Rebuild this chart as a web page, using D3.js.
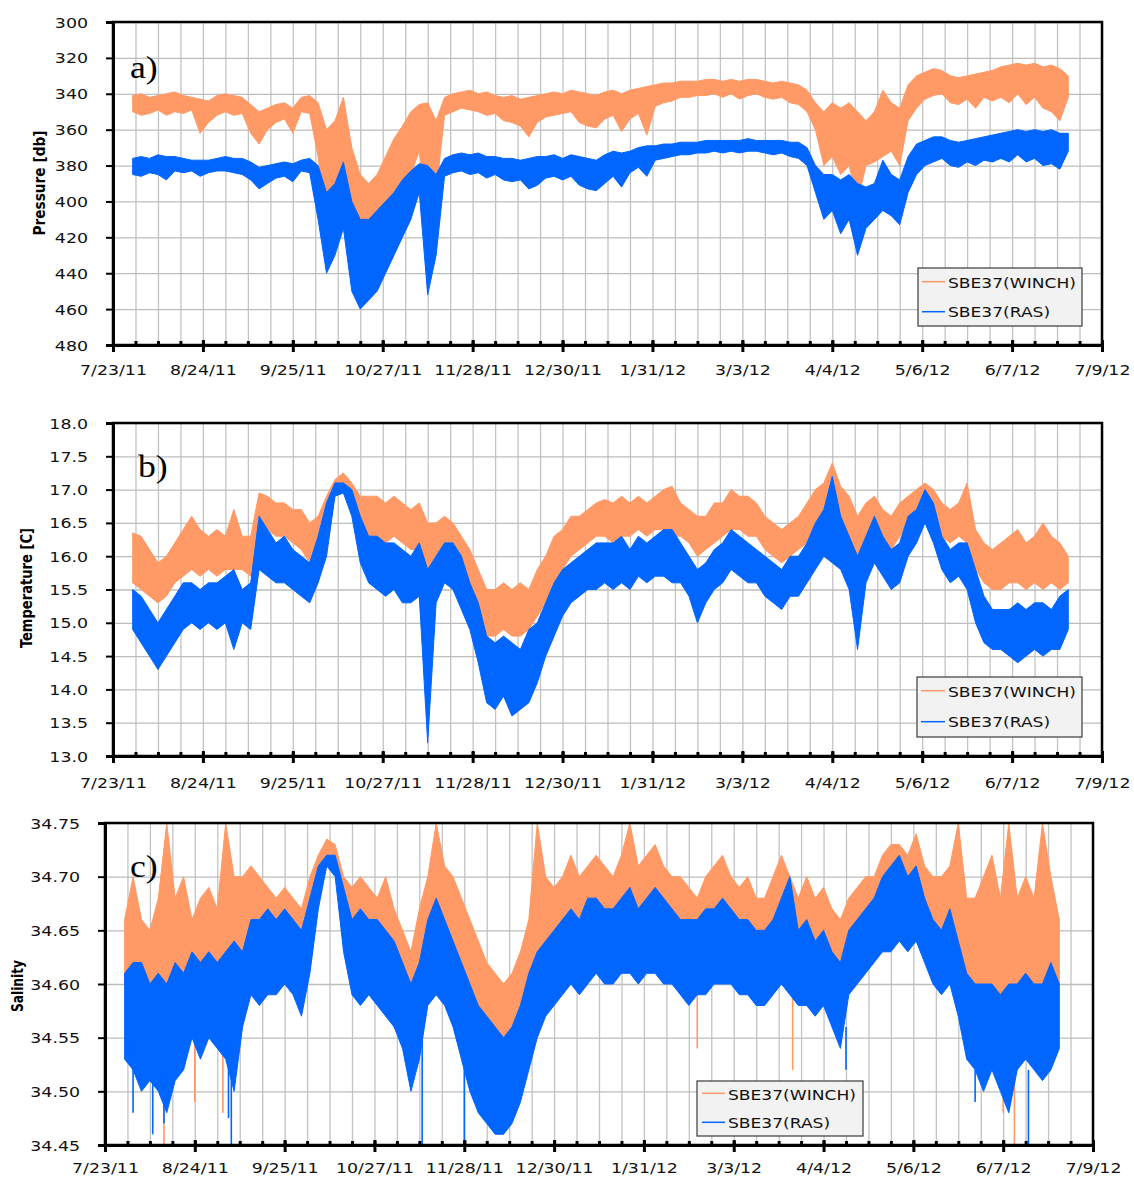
<!DOCTYPE html>
<html><head><meta charset="utf-8">
<script src="https://cdn.jsdelivr.net/npm/d3@7"></script>
<style>body{margin:0;background:#fff}</style></head>
<body>
<svg id="chart" width="1134" height="1178"></svg>
<script>
// ---------- DATA ----------
const tickLabels = ["7/23/11","8/24/11","9/25/11","10/27/11","11/28/11","12/30/11","1/31/12","3/3/12","4/4/12","5/6/12","6/7/12","7/9/12"];
const seriesNames = ["SBE37(WINCH)","SBE37(RAS)"];
const pressTicks = [300,320,340,360,380,400,420,440,460,480];
const tempTicks = [13.0,13.5,14.0,14.5,15.0,15.5,16.0,16.5,17.0,17.5,18.0];
const salTicks = [34.45,34.50,34.55,34.60,34.65,34.70,34.75];

// sample day (days after 7/23/11)
const sampleDay = [
7,10,13,16,19,22,25,28,
31,34,37,40,43,46,49,52,
55,58,61,64,67,70,73,76,
79,82,85,88,91,94,97,100,
103,106,109,112,115,118,121,124,
127,130,133,136,139,142,145,148,
151,154,157,160,163,166,169,172,
175,178,181,184,187,190,193,196,
199,202,205,208,211,214,217,220,
223,226,229,232,235,238,241,244,
247,250,253,256,259,262,265,268,
271,274,277,280,283,286,289,292,
295,298,301,304,307,310,313,316,
319,322,325,328,331,334,337,340];

// Pressure [db]
const pressWinchLo = [
341,340,342,341,340,339,341,342,
343,344,341,340,341,342,346,350,
348,346,345,348,342,341,345,360,
355,342,370,385,390,385,375,365,
358,350,346,345,355,342,340,339,
338,340,339,341,342,341,343,342,
341,340,339,340,338,339,340,341,
339,338,340,338,337,336,335,334,
334,333,333,333,332,332,333,332,
333,332,332,333,334,333,334,335,
338,345,350,345,348,345,350,355,
350,338,345,348,335,330,328,326,
327,330,331,330,329,328,327,325,
324,323,324,323,325,324,326,330];
const pressWinchHi = [
350,352,351,349,352,350,351,349,
362,356,352,350,352,351,362,368,
360,356,354,362,350,351,375,418,
405,395,420,435,430,425,415,405,
395,385,372,418,395,352,350,348,
349,350,352,351,355,356,358,364,
356,353,352,351,350,356,358,359,
354,352,361,354,351,363,347,345,
344,342,342,341,341,340,342,340,
343,341,340,342,343,342,345,346,
350,360,380,375,385,380,400,380,
378,375,372,380,355,348,343,341,
340,345,346,343,348,342,344,342,
345,340,346,342,348,350,355,342];
const pressRasLo = [
376,375,376,374,375,375,376,377,
377,377,376,375,376,376,378,381,
380,379,378,379,377,376,380,395,
390,378,400,410,410,405,400,395,
388,383,379,380,385,376,374,373,
374,373,375,375,376,376,377,376,
375,375,374,376,374,375,376,377,
374,372,373,372,370,369,369,368,
368,367,367,367,366,366,366,366,
366,365,366,366,366,366,367,367,
370,380,385,385,388,385,390,392,
390,377,385,388,375,368,366,364,
364,366,367,366,365,364,363,362,
361,360,361,360,361,360,362,362];
const pressRasHi = [
385,386,384,385,388,383,384,383,
386,384,383,383,384,385,388,393,
390,387,386,389,383,384,410,440,
430,415,450,460,455,450,440,430,
420,410,395,452,430,386,384,383,
385,384,387,385,388,389,388,393,
391,387,386,388,386,391,393,394,
390,386,392,384,381,386,377,376,
375,374,374,373,373,372,373,372,
373,372,372,373,374,373,375,376,
380,395,410,405,418,410,430,415,
410,405,408,413,395,385,380,378,
376,380,381,378,380,377,378,376,
378,374,378,376,380,379,382,372];

// Temperature [C]
const tempWinchLo = [
15.6,15.5,15.4,15.3,15.4,15.6,15.7,15.8,
15.7,15.8,15.7,15.8,15.8,15.8,15.7,16.3,
16.4,16.3,16.3,16.2,16.1,15.9,16.0,16.3,
16.9,17.0,16.8,16.4,16.2,16.3,16.2,16.3,
16.2,16.1,16.1,14.2,15.8,16.0,15.9,15.6,
15.4,15.0,14.8,14.8,14.9,14.8,14.8,14.9,
15.1,15.3,15.5,15.8,16.0,16.1,16.2,16.3,
16.3,16.2,16.3,16.3,16.4,16.3,16.4,16.4,
16.3,16.3,16.2,16.0,16.1,16.2,16.3,16.4,
16.4,16.3,16.3,16.1,16.0,15.9,16.0,16.1,
16.2,16.4,16.5,16.6,16.5,16.3,15.6,16.2,
16.4,16.2,16.1,16.3,16.4,16.5,16.7,16.5,
16.3,16.2,16.3,16.2,15.8,15.6,15.5,15.5,
15.6,15.6,15.5,15.6,15.5,15.6,15.5,15.6];
const tempWinchHi = [
16.35,16.3,16.1,15.9,16.0,16.2,16.4,16.6,
16.4,16.3,16.4,16.3,16.7,16.3,16.3,16.95,
16.9,16.8,16.8,16.7,16.7,16.5,16.6,16.9,
17.15,17.25,17.1,16.9,16.9,16.9,16.8,16.9,
16.8,16.7,16.8,16.5,16.5,16.6,16.5,16.3,
16.1,15.8,15.5,15.5,15.6,15.5,15.6,15.5,
15.8,16.0,16.3,16.4,16.6,16.6,16.7,16.8,
16.85,16.8,16.9,16.8,16.9,16.8,16.9,17.0,
17.05,16.8,16.7,16.6,16.6,16.8,16.8,17.0,
16.9,16.9,16.8,16.6,16.5,16.4,16.5,16.6,
16.8,17.0,17.1,17.4,17.05,16.9,16.6,16.8,
16.9,16.7,16.6,16.8,16.9,17.0,17.1,17.0,
16.8,16.7,16.8,17.1,16.4,16.2,16.1,16.2,
16.3,16.4,16.2,16.3,16.5,16.3,16.2,16.0];
const tempRasLo = [
14.9,14.7,14.5,14.3,14.5,14.7,14.9,15.0,
14.9,15.0,14.9,15.0,14.6,15.0,14.9,15.8,
15.7,15.6,15.6,15.5,15.4,15.3,15.6,16.0,
16.9,16.95,16.6,15.9,15.6,15.5,15.4,15.5,
15.3,15.3,15.4,13.2,15.3,15.6,15.5,15.2,
14.9,14.4,13.8,13.7,13.9,13.6,13.7,13.8,
14.1,14.5,14.8,15.1,15.3,15.4,15.5,15.5,
15.6,15.5,15.6,15.5,15.7,15.6,15.7,15.7,
15.6,15.6,15.4,15.0,15.3,15.5,15.6,15.8,
15.7,15.6,15.6,15.4,15.3,15.2,15.4,15.4,
15.6,15.8,16.0,15.9,15.8,15.5,14.6,15.6,
15.9,15.7,15.5,15.6,16.0,16.2,16.5,16.2,
15.8,15.6,15.7,15.5,15.0,14.7,14.6,14.6,
14.5,14.4,14.5,14.6,14.5,14.6,14.6,14.9];
const tempRasHi = [
15.5,15.4,15.2,15.0,15.2,15.4,15.6,15.6,
15.5,15.6,15.6,15.7,15.8,15.5,15.6,16.6,
16.4,16.2,16.3,16.1,16.0,15.9,16.3,16.8,
17.1,17.1,17.0,16.6,16.3,16.3,16.2,16.2,
16.1,16.0,16.2,15.8,16.0,16.2,16.2,16.0,
15.6,15.3,14.8,14.7,14.8,14.7,14.6,14.9,
15.0,15.3,15.6,15.8,15.9,16.0,16.1,16.2,
16.2,16.2,16.3,16.1,16.3,16.2,16.3,16.4,
16.4,16.2,16.0,15.8,15.9,16.1,16.2,16.4,
16.3,16.2,16.1,16.0,15.9,15.8,16.0,16.0,
16.2,16.5,16.7,17.2,16.6,16.3,16.0,16.3,
16.6,16.3,16.1,16.2,16.6,16.7,17.0,16.8,
16.3,16.1,16.2,16.2,15.8,15.4,15.2,15.2,
15.2,15.3,15.2,15.3,15.3,15.2,15.4,15.5];

// Salinity
const salWinchLo = [
34.60,34.60,34.59,34.60,34.59,34.60,34.61,34.60,
34.61,34.61,34.62,34.61,34.62,34.63,34.63,34.64,
34.63,34.63,34.62,34.63,34.62,34.61,34.63,34.69,
34.72,34.71,34.66,34.63,34.62,34.63,34.62,34.61,
34.60,34.58,34.56,34.60,34.62,34.64,34.63,34.62,
34.60,34.58,34.56,34.54,34.54,34.52,34.53,34.55,
34.58,34.60,34.61,34.61,34.62,34.63,34.63,34.63,
34.64,34.63,34.63,34.64,34.64,34.63,34.64,34.64,
34.63,34.63,34.62,34.61,34.62,34.62,34.63,34.63,
34.63,34.62,34.62,34.61,34.61,34.62,34.63,34.62,
34.61,34.62,34.61,34.62,34.60,34.60,34.62,34.63,
34.63,34.64,34.65,34.65,34.66,34.65,34.66,34.64,
34.63,34.62,34.63,34.61,34.59,34.58,34.58,34.59,
34.58,34.59,34.58,34.59,34.58,34.59,34.58,34.60];
const salWinchHi = [
34.66,34.70,34.66,34.65,34.68,34.75,34.68,34.70,
34.66,34.68,34.69,34.67,34.75,34.70,34.70,34.71,
34.70,34.69,34.68,34.69,34.68,34.67,34.70,34.72,
34.735,34.73,34.70,34.69,34.70,34.69,34.68,34.70,
34.67,34.65,34.63,34.67,34.70,34.75,34.71,34.70,
34.68,34.66,34.64,34.62,34.61,34.60,34.61,34.63,
34.66,34.75,34.70,34.69,34.70,34.72,34.70,34.71,
34.72,34.71,34.70,34.72,34.75,34.71,34.72,34.73,
34.71,34.70,34.70,34.69,34.68,34.70,34.71,34.72,
34.70,34.69,34.70,34.68,34.68,34.70,34.72,34.70,
34.68,34.70,34.68,34.69,34.67,34.66,34.68,34.69,
34.70,34.70,34.72,34.73,34.73,34.72,34.74,34.71,
34.70,34.70,34.71,34.75,34.68,34.68,34.70,34.72,
34.68,34.75,34.68,34.70,34.68,34.75,34.70,34.66];
const salRasLo = [
34.53,34.52,34.50,34.51,34.50,34.48,34.51,34.52,
34.55,34.53,34.55,34.54,34.53,34.50,34.56,34.59,
34.58,34.59,34.59,34.60,34.59,34.57,34.61,34.67,
34.71,34.70,34.63,34.59,34.58,34.59,34.58,34.57,
34.56,34.54,34.50,34.53,34.58,34.59,34.58,34.56,
34.53,34.50,34.48,34.47,34.46,34.46,34.47,34.49,
34.52,34.55,34.57,34.58,34.59,34.60,34.59,34.60,
34.61,34.60,34.60,34.61,34.61,34.60,34.61,34.61,
34.60,34.60,34.59,34.58,34.59,34.59,34.60,34.60,
34.60,34.59,34.59,34.58,34.58,34.59,34.60,34.59,
34.58,34.58,34.57,34.58,34.56,34.54,34.59,34.60,
34.61,34.62,34.63,34.63,34.64,34.63,34.64,34.62,
34.60,34.59,34.60,34.57,34.53,34.52,34.50,34.52,
34.50,34.48,34.52,34.53,34.52,34.51,34.52,34.54];
const salRasHi = [
34.61,34.62,34.62,34.60,34.61,34.60,34.62,34.61,
34.63,34.62,34.63,34.62,34.63,34.64,34.63,34.66,
34.66,34.67,34.66,34.67,34.66,34.65,34.68,34.71,
34.72,34.72,34.69,34.66,34.67,34.66,34.66,34.65,
34.64,34.62,34.60,34.62,34.66,34.68,34.66,34.64,
34.62,34.60,34.58,34.57,34.56,34.55,34.56,34.58,
34.61,34.63,34.64,34.65,34.66,34.67,34.66,34.68,
34.68,34.67,34.67,34.68,34.69,34.67,34.68,34.69,
34.68,34.67,34.66,34.66,34.66,34.67,34.67,34.68,
34.67,34.66,34.66,34.65,34.65,34.66,34.68,34.70,
34.65,34.66,34.64,34.65,34.63,34.62,34.65,34.66,
34.67,34.68,34.70,34.71,34.72,34.70,34.71,34.68,
34.66,34.65,34.67,34.64,34.61,34.60,34.60,34.60,
34.59,34.60,34.60,34.61,34.60,34.60,34.62,34.60];

// isolated spikes: [day, from value, to value]
const salWinchSpikes = [[21,34.60,34.45],[32,34.60,34.49],[42,34.60,34.48],[211,34.62,34.54],[245,34.61,34.52],[320,34.58,34.48],[324,34.58,34.45],[327,34.58,34.55]];
const salRasSpikes = [[10,34.55,34.48],[17,34.52,34.46],[21,34.52,34.47],[44,34.55,34.475],[45,34.55,34.45],[113,34.55,34.45],[128,34.55,34.45],[264,34.56,34.52],[310,34.52,34.49],[329,34.52,34.45]];

// ---------- DRAW ----------
const colors = ["#FF9966", "#0066FF"];
const svg = d3.select("#chart");
const parse = d3.timeParse("%m/%d/%y");
const tickDates = tickLabels.map(parse);
const day0 = tickDates[0];
const dateOf = d => d3.timeDay.offset(day0, d);
const STRETCH = 1.24;

function stretch(sel, k) {
  sel.each(function () {
    const w = this.getComputedTextLength();
    this.setAttribute("textLength", w * (k || STRETCH));
    this.setAttribute("lengthAdjust", "spacingAndGlyphs");
  });
}

const panels = [
  { L:113, R:1102, T:22, B:345, dom:[300,480], rng:"down", ticks:pressTicks, fmt:d3.format("d"),
    s:[[pressWinchLo,pressWinchHi],[pressRasLo,pressRasHi]], spikes:[[],[]], letter:"a)", lx:130, ly:78,
    title:"Pressure [db]", tx:40, ty:183, tlen:105, xlabY:375,
    leg:{x:918,y:268,w:164,h:58, l1:13.7, l2:43.7, b1:20.3, b2:49.3, tx:30, lx0:4, lx1:27} },
  { L:113, R:1102, T:423, B:756, dom:[13,18], rng:"up", ticks:tempTicks, fmt:d3.format(".1f"),
    s:[[tempWinchLo,tempWinchHi],[tempRasLo,tempRasHi]], spikes:[[],[]], letter:"b)", lx:138, ly:477,
    title:"Temperature [C]", tx:27, ty:588, tlen:120, xlabY:788,
    leg:{x:917,y:677,w:165,h:60, l1:13.7, l2:44.7, b1:20.3, b2:50.3, tx:31, lx0:4, lx1:28} },
  { L:105, R:1093, T:823, B:1145, dom:[34.45,34.75], rng:"up", ticks:salTicks, fmt:d3.format(".2f"),
    s:[[salWinchLo,salWinchHi],[salRasLo,salRasHi]], spikes:[salWinchSpikes,salRasSpikes], letter:"c)", lx:130, ly:877,
    title:"Salinity", tx:18, ty:986, tlen:52, xlabY:1173,
    leg:{x:697,y:1081,w:166,h:55, l1:12.3, l2:41.3, b1:19, b2:47.3, tx:31, lx0:5, lx1:28} }
];

const minorDates = d3.range(0, 353, 8).map(dateOf);

panels.forEach((p, pi) => {
  const x = d3.scaleTime().domain([tickDates[0], tickDates[tickDates.length-1]]).range([p.L, p.R]);
  const y = d3.scaleLinear().domain(p.dom).range(p.rng === "down" ? [p.T, p.B] : [p.B, p.T]);
  const g = svg.append("g");

  // grid
  g.append("g").attr("transform", `translate(0,${p.B})`)
    .call(d3.axisBottom(x).tickValues(minorDates).tickSize(-(p.B - p.T)).tickFormat(""))
    .call(a => a.select(".domain").remove())
    .call(a => a.selectAll("line").attr("stroke", "#c3c3c3").attr("stroke-width", 1.3));
  g.append("g").attr("transform", `translate(${p.L},0)`)
    .call(d3.axisLeft(y).tickValues(p.ticks).tickSize(-(p.R - p.L)).tickFormat(""))
    .call(a => a.select(".domain").remove())
    .call(a => a.selectAll("line").attr("stroke", "#bdbdbd").attr("stroke-width", 1.3));

  // clip
  const cid = "clip" + pi;
  svg.append("clipPath").attr("id", cid).append("rect")
    .attr("x", p.L).attr("y", p.T).attr("width", p.R - p.L).attr("height", p.B - p.T);

  // series
  const sg = g.append("g").attr("clip-path", `url(#${cid})`);
  p.s.forEach((pair, si) => {
    const data = sampleDay.map((d, i) => ({ date: dateOf(d), lo: pair[0][i], hi: pair[1][i] }));
    const area = d3.area().x(d => x(d.date)).y0(d => y(d.lo)).y1(d => y(d.hi));
    sg.append("path").datum(data).attr("d", area)
      .attr("fill", colors[si]).attr("stroke", colors[si]).attr("stroke-width", 1)
      .attr("stroke-linejoin", "miter");
    sg.selectAll(null).data(p.spikes[si]).join("line")
      .attr("x1", d => x(dateOf(d[0]))).attr("x2", d => x(dateOf(d[0])))
      .attr("y1", d => y(d[1])).attr("y2", d => y(d[2]))
      .attr("stroke", colors[si]).attr("stroke-width", 1.6);
  });

  // frame
  g.append("rect").attr("x", p.L).attr("y", p.T).attr("width", p.R - p.L).attr("height", p.B - p.T)
    .attr("fill", "none").attr("stroke", "#000").attr("stroke-width", 2.5);

  // y ticks and labels
  const ya = g.append("g").attr("transform", `translate(${p.L},0)`)
    .call(d3.axisLeft(y).tickValues(p.ticks).tickSize(7).tickPadding(18).tickFormat(p.fmt));
  ya.select(".domain").attr("stroke", "#000").attr("stroke-width", 3);
  ya.selectAll("line").attr("stroke", "#000").attr("stroke-width", 2);
  ya.selectAll("text").attr("font-family", "DejaVu Sans, Verdana, sans-serif").attr("font-size", 14)
    .attr("fill", "#111").attr("dy", "0.36em").call(stretch);

  // x minor ticks
  g.append("g").attr("transform", `translate(0,${p.B})`)
    .call(d3.axisTop(x).tickValues(minorDates).tickSize(4).tickFormat(""))
    .call(a => a.select(".domain").remove())
    .call(a => a.selectAll("line").attr("stroke", "#000").attr("stroke-width", 3));
  // x major ticks + labels
  const xa = g.append("g").attr("transform", `translate(0,${p.B})`)
    .call(d3.axisBottom(x).tickValues(tickDates).tickSize(7).tickPadding(12).tickFormat((d, i) => tickLabels[i]));
  xa.select(".domain").attr("stroke", "#000").attr("stroke-width", 3);
  xa.selectAll("line").attr("stroke", "#000").attr("stroke-width", 3).attr("y1", -5);
  xa.selectAll("text").attr("font-family", "DejaVu Sans, Verdana, sans-serif").attr("font-size", 14)
    .attr("fill", "#111").attr("y", p.xlabY - p.B).attr("dy", 0).call(stretch);

  // panel letter
  svg.append("text").attr("x", p.lx).attr("y", p.ly).text(p.letter)
    .attr("font-family", "Liberation Serif, Times New Roman, serif").attr("font-size", 31).attr("fill", "#000")
    .call(stretch, 1.15);

  // y title
  svg.append("text").attr("transform", `translate(${p.tx},${p.ty}) rotate(-90)`)
    .attr("text-anchor", "middle").attr("dy", "0.36em").text(p.title)
    .attr("font-family", "Liberation Sans Narrow, DejaVu Sans Condensed, Arial Narrow, sans-serif")
    .attr("font-weight", "bold").attr("font-size", 15).attr("fill", "#000")
    .attr("textLength", p.tlen).attr("lengthAdjust", "spacingAndGlyphs");

  // legend
  const lg = p.leg;
  const leg = svg.append("g");
  leg.append("rect").attr("x", lg.x).attr("y", lg.y).attr("width", lg.w).attr("height", lg.h)
    .attr("fill", "#f2f2f2").attr("stroke", "#3a3a3a").attr("stroke-width", 1.2);
  seriesNames.forEach((nm, si) => {
    const ly = lg.y + (si === 0 ? lg.l1 : lg.l2);
    const by = lg.y + (si === 0 ? lg.b1 : lg.b2);
    leg.append("line").attr("x1", lg.x + lg.lx0).attr("x2", lg.x + lg.lx1).attr("y1", ly).attr("y2", ly)
      .attr("stroke", colors[si]).attr("stroke-width", 1.5);
    leg.append("text").attr("x", lg.x + lg.tx).attr("y", by).text(nm)
      .attr("font-family", "DejaVu Sans, Verdana, sans-serif").attr("font-size", 14).attr("fill", "#111")
      .call(stretch, 1.22);
  });
});
</script>
</body></html>
